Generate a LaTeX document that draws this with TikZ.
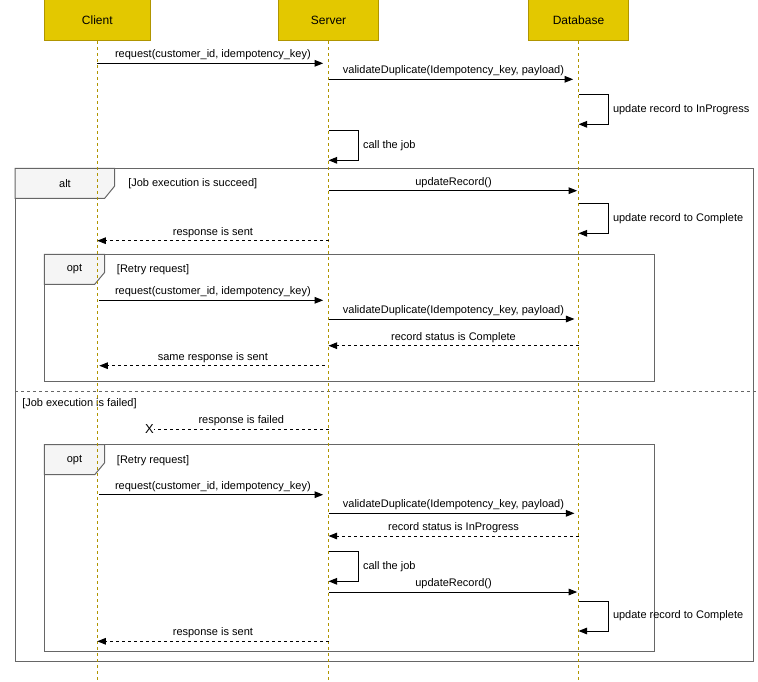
\documentclass[tikz,border=0pt]{standalone}
\usepackage{fontspec}
\setmainfont{Liberation Sans}
\usetikzlibrary{arrows.meta,calc}
\definecolor{actorfill}{HTML}{E3C800}
\definecolor{actorline}{HTML}{B09500}
\definecolor{framegray}{HTML}{666666}
\definecolor{tabfill}{HTML}{F5F5F5}

\begin{document}
\begin{tikzpicture}[x=0.75pt,y=-0.75pt,
    actor/.style={draw=actorline,fill=actorfill,line width=0.75pt,minimum height=30.5pt,inner sep=0pt,font=\fontsize{9}{11}\selectfont},
    lifeline/.style={draw=actorline,line width=0.75pt,dash pattern=on 2.25pt off 2.25pt},
    msg/.style={line width=0.75pt,-{Triangle[length=6.5pt,width=5pt]}},
    reply/.style={msg,dash pattern=on 2.25pt off 2.25pt},
    lbl/.style={font=\fontsize{8.25}{10}\selectfont,inner sep=0pt},
    frame/.style={draw=framegray,line width=0.75pt},
    tab/.style={frame,fill=tabfill}]
                \useasboundingbox(0,0)rectangle(758,682);
                \node[actor,minimum width=79.5pt](client)at(97.3,20.3){Client};
                \node[actor,minimum width=75pt](server)at(328.5,20.3){Server};
                \node[actor,minimum width=75pt](db)at(578.5,20.3){Database};
                \coordinate(end)at(0,680);
                % alt frame
                \draw[frame](15,168.3)rectangle(753.5,661.7);
                \draw[tab](15,168.3)--(114.7,168.3)--(114.7,186)--(104.7,198.3)--(15,198.3)--cycle;
                \node[lbl](alt)at(65,183.3){alt};
                \node[lbl,anchor=west](altok)at(128,183.3){[Job execution is succeed]};
                \draw[frame,dash pattern=on 2.25pt off 2.25pt](15,391.7)--(756,391.7);
                \node[lbl,anchor=west](altfail)at(22,404){[Job execution is failed]};
                % opt frames
                \foreach \t/\b/\n in {254.3/381/1,444.7/651/2}{
                    \draw[frame](44.3,\t)rectangle(654.3,\b);
                    \draw[tab](44.3,\t)--(104.7,\t)--(104.7,\t+18)--(94.7,\t+30)--(44.3,\t+30)--cycle;
                    \node[lbl](opt\n)at(74.5,\t+15.2){opt};
                    \node[lbl,anchor=west](retry\n)at(116.7,\t+15.5){[Retry request]};
                }
                % lifelines
                \draw[lifeline](client)--(client|-end);
                \draw[lifeline](server)--(server|-end);
                \draw[lifeline](db)--(db|-end);
                \foreach \n/\y in {1/63.3,2/79.3,3/94.3,4/124.3,5/130.3,6/160.3,7/190.7,8/203.3,9/233.3,10/240.7,11/300.3,12/319,13/345.7,14/365.7,15/429.3,16/494.7,17/513.3,18/536,19/551.7,20/581.3,21/592,22/601,23/631,24/641.3}{
                    \coordinate(c\n)at(client|-0,\y);
                    \coordinate(s\n)at(server|-0,\y);
                    \coordinate(d\n)at(db|-0,\y);
                }
                \node[lbl,font=\fontsize{9.75}{11}\selectfont](lost)at(149.5,429.3){X};
                % messages
                \draw[msg,shorten >=4pt](c1)--node[lbl,above=2pt](m1){request(customer\_id, idempotency\_key)}(s1);
                \draw[msg,shorten >=4pt](s2)--node[lbl,above=2pt](m2){validateDuplicate(Idempotency\_key, payload)}(d2);
                \draw[msg](d3)--++(30,0)|-node[lbl,pos=0.25,right=3pt](m3){update record to InProgress}(d4);
                \draw[msg](s5)--++(30,0)|-node[lbl,pos=0.25,right=3pt](m4){call the job}(s6);
                \draw[msg,shorten >=1pt](s7)--node[lbl,above=2pt](m5){updateRecord()}(d7);
                \draw[msg](d8)--++(30,0)|-node[lbl,pos=0.25,right=3pt](m6){update record to Complete}(d9);
                \draw[reply](s10)--node[lbl,above=2pt](m7){response is sent}(c10);
                \draw[msg,shorten <=1.5pt,shorten >=4pt](c11)--node[lbl,above=2pt](m8){request(customer\_id, idempotency\_key)}(s11);
                \draw[msg,shorten >=3pt](s12)--node[lbl,above=2pt](m9){validateDuplicate(Idempotency\_key, payload)}(d12);
                \draw[reply](d13)--node[lbl,above=2pt](m10){record status is Complete}(s13);
                \draw[reply,shorten <=3pt,shorten >=1.5pt](s14)--node[lbl,above=2pt](m11){same response is sent}(c14);
                \draw[line width=0.75pt,dash pattern=on 2.25pt off 2.25pt](s15)--node[lbl,above=2pt](m12){response is failed}(lost);
                \draw[msg,shorten <=1.5pt,shorten >=4pt](c16)--node[lbl,above=2pt](m13){request(customer\_id, idempotency\_key)}(s16);
                \draw[msg,shorten >=3pt](s17)--node[lbl,above=2pt](m14){validateDuplicate(Idempotency\_key, payload)}(d17);
                \draw[reply](d18)--node[lbl,above=2pt](m15){record status is InProgress}(s18);
                \draw[msg](s19)--++(30,0)|-node[lbl,pos=0.25,right=3pt](m16){call the job}(s20);
                \draw[msg,shorten >=1pt](s21)--node[lbl,above=2pt](m17){updateRecord()}(d21);
                \draw[msg](d22)--++(30,0)|-node[lbl,pos=0.25,right=3pt](m18){update record to Complete}(d23);
                \draw[reply](s24)--node[lbl,above=2pt](m19){response is sent}(c24);
            \end{tikzpicture}
\end{document}
